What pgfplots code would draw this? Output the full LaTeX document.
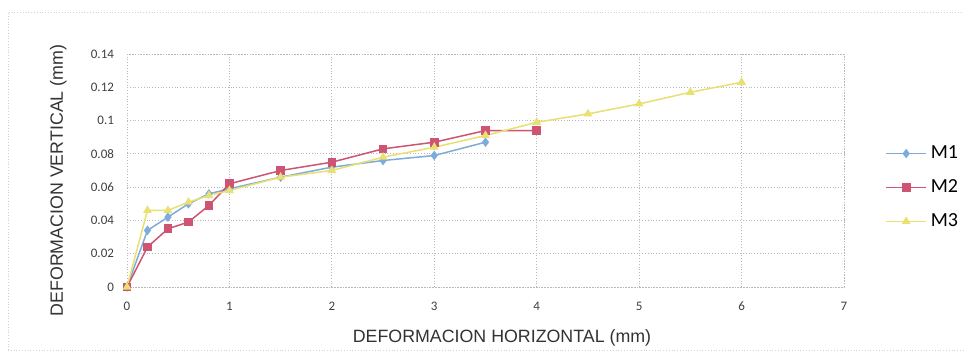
\documentclass[border=0pt]{standalone}
\usepackage{pgfplots}
\pgfplotsset{compat=1.18}
\usepackage{fontspec}
\setmainfont{Carlito}
\newfontfamily\arialfont{Liberation Sans}
\definecolor{mone}{RGB}{125,172,220}
\definecolor{mtwo}{RGB}{205,85,115}
\definecolor{mthree}{RGB}{232,224,112}
\begin{document}
\begin{tikzpicture}
\useasboundingbox (0,0) rectangle (482pt,179pt);
\fill[white] (0,0) rectangle (482pt,179pt);
% faint outer frame of the original chart
\draw[gray!35, densely dotted] (4pt,4pt) -- (4pt,173pt) -- (482pt,173pt);
\draw[gray!35, densely dotted] (4pt,4pt) -- (482pt,4pt);
\begin{axis}[
  at={(63.5pt,35.5pt)}, anchor=south west,
  scale only axis, width=358.5pt, height=116.5pt,
  xmin=0, xmax=7, ymin=0, ymax=0.14,
  xtick={0,1,...,7},
  ytick={0,0.02,0.04,0.06,0.08,0.1,0.12,0.14},
  yticklabels={0,0.02,0.04,0.06,0.08,0.1,0.12,0.14},
  /pgf/number format/assume math mode=true,
  tick style={draw=none},
  ticklabel style={font=\fontsize{6.5}{7}\selectfont, text=black!75},
  xticklabel style={yshift=-4pt},
  yticklabel style={xshift=-3pt},
  grid=major,
  grid style={gray!55, densely dotted},
  axis line style={gray!55, densely dotted},
  xlabel={DEFORMACION HORIZONTAL (mm)},
  ylabel={DEFORMACION VERTICAL (mm)},
  label style={font=\arialfont\fontsize{8.9}{9}\selectfont, text=black!80},
  xlabel style={at={(axis description cs:0.523,-0.22)}, anchor=center},
  ylabel style={at={(axis description cs:-0.096,0.457)}, anchor=center},
  legend style={at={(1.049,0.427)}, anchor=west, draw=none, fill=none,
    font=\fontsize{10}{11}\selectfont, row sep=5pt},
  legend image code/.code={
    \draw[mark repeat=2,mark phase=2] plot coordinates {(0cm,0cm) (0.35cm,0cm) (0.7cm,0cm)};},
  legend cell align=left,
  every axis plot/.append style={line width=0.75pt, mark size=1.8pt},
]
\addplot[color=mone, mark=diamond*, mark options={fill=mone}] coordinates {
  (0,0) (0.2,0.034) (0.4,0.042) (0.6,0.050) (0.8,0.056) (1,0.059)
  (1.5,0.066) (2,0.072) (2.5,0.076) (3,0.079) (3.5,0.087)
};
\addlegendentry{M1}
\addplot[color=mtwo, mark=square*, mark options={fill=mtwo}] coordinates {
  (0,0) (0.2,0.024) (0.4,0.035) (0.6,0.039) (0.8,0.049) (1,0.062)
  (1.5,0.070) (2,0.075) (2.5,0.083) (3,0.087) (3.5,0.094) (4,0.094)
};
\addlegendentry{M2}
\addplot[color=mthree, mark=triangle*, mark options={fill=mthree}] coordinates {
  (0,0) (0.2,0.046) (0.4,0.046) (0.6,0.051) (0.8,0.055) (1,0.058)
  (1.5,0.066) (2,0.070) (2.5,0.078) (3,0.084) (3.5,0.091) (4,0.099)
  (4.5,0.104) (5,0.110) (5.5,0.117) (6,0.123)
};
\addlegendentry{M3}
\end{axis}
\end{tikzpicture}
\end{document}
